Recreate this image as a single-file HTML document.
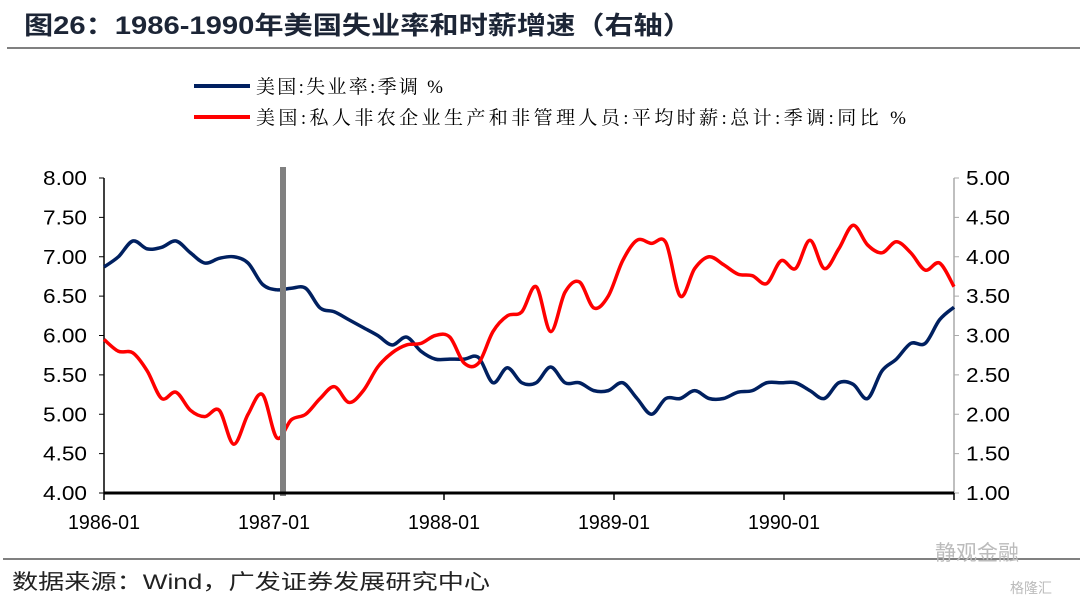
<!DOCTYPE html>
<html><head><meta charset="utf-8">
<style>
body{margin:0;background:#fff;width:1080px;height:603px;overflow:hidden;position:relative;font-family:"Liberation Sans","Noto Sans CJK SC",sans-serif}
</style></head><body>
<svg id="c" width="1080" height="603" style="position:absolute;left:0;top:0">
<text x="24" y="34" font-size="25" font-weight="bold" fill="#1c2536" font-family="Liberation Sans, Noto Sans CJK SC, sans-serif" textLength="668" lengthAdjust="spacingAndGlyphs">图26：1986-1990年美国失业率和时薪增速（右轴）</text>
<rect x="7" y="47" width="1073" height="2" fill="#808080"/>
<rect x="3" y="558" width="1077" height="2" fill="#808080"/>
<text x="12" y="589" font-size="21" fill="#222" font-family="Liberation Sans, Noto Sans CJK SC, sans-serif" textLength="478" lengthAdjust="spacingAndGlyphs">数据来源：Wind，广发证券发展研究中心</text>
<text x="935" y="560" font-size="21" fill="#bbb" font-family="Noto Sans CJK SC, sans-serif">静观金融</text>
<text x="1010" y="593" font-size="14" fill="#bbb" font-family="Noto Sans CJK SC, sans-serif">格隆汇</text>
</svg>
<script>
const unemp=[6.87,7.0,7.2,7.1,7.12,7.2,7.05,6.92,6.98,7.0,6.92,6.65,6.58,6.6,6.6,6.35,6.3,6.2,6.1,6.0,5.88,5.98,5.8,5.7,5.7,5.7,5.72,5.4,5.59,5.4,5.4,5.6,5.4,5.4,5.3,5.3,5.4,5.2,5.0,5.2,5.2,5.3,5.2,5.2,5.28,5.3,5.4,5.4,5.4,5.3,5.2,5.4,5.38,5.2,5.55,5.7,5.9,5.9,6.2,6.36];
const wage=[2.95,2.8,2.78,2.55,2.2,2.28,2.05,1.97,2.05,1.62,2.0,2.25,1.7,1.93,2.0,2.2,2.35,2.15,2.3,2.6,2.78,2.88,2.9,3.0,2.98,2.65,2.65,3.05,3.25,3.3,3.62,3.05,3.55,3.68,3.35,3.5,3.95,4.21,4.17,4.18,3.5,3.85,4.0,3.9,3.78,3.76,3.66,3.95,3.85,4.21,3.85,4.1,4.4,4.15,4.05,4.19,4.05,3.83,3.92,3.62];
const leftTicks=["4.00","4.50","5.00","5.50","6.00","6.50","7.00","7.50","8.00"];
const rightTicks=["1.00","1.50","2.00","2.50","3.00","3.50","4.00","4.50","5.00"];
const xLabels=["1986-01","1987-01","1988-01","1989-01","1990-01"];
const X0=104,X1=954,Y0=493,Y1=178;
const xs=i=>X0+i*(X1-X0)/(unemp.length-1);
const yL=v=>Y0-(v-4)/4*(Y0-Y1);
const yR=v=>Y0-(v-1)/4*(Y0-Y1);
const svg=document.getElementById('c');const NS='http://www.w3.org/2000/svg';
function mk(t,a){const e=document.createElementNS(NS,t);for(const k in a)e.setAttribute(k,a[k]);svg.appendChild(e);return e;}
function path(p){let d=`M${p[0][0]},${p[0][1]}`;for(let i=0;i<p.length-1;i++){const a=p[i-1]||p[i],b=p[i],c=p[i+1],e=p[i+2]||c;d+=` C${b[0]+(c[0]-a[0])/6},${b[1]+(c[1]-a[1])/6} ${c[0]-(e[0]-b[0])/6},${c[1]-(e[1]-b[1])/6} ${c[0]},${c[1]}`;}return d;}
let e;
e=mk('line',{x1:X0,y1:Y1,x2:X0,y2:Y0,stroke:'#000','stroke-width':1.5});

e=mk('line',{x1:X1,y1:Y1,x2:X1,y2:Y0,stroke:'#aaa','stroke-width':1.5});

leftTicks.forEach((t,i)=>{const y=Y0-i*(Y0-Y1)/8;mk('line',{x1:X0-5,y1:y,x2:X0,y2:y,stroke:'#000'});
e=mk('text',{x:87,y:y+7,'text-anchor':'end','font-size':20,fill:'#000','font-family':'Liberation Sans',textLength:44,lengthAdjust:'spacingAndGlyphs'});e.textContent=t;
});
rightTicks.forEach((t,i)=>{const y=Y0-i*(Y0-Y1)/8;mk('line',{x1:X1,y1:y,x2:X1+5,y2:y,stroke:'#aaa'});
e=mk('text',{x:966,y:y+7,'font-size':20,fill:'#000','font-family':'Liberation Sans',textLength:44,lengthAdjust:'spacingAndGlyphs'});e.textContent=t;
});
e=mk('path',{d:path(unemp.map((v,i)=>[xs(i),yL(v)])),fill:'none',stroke:'#002060','stroke-width':3.5,'stroke-linejoin':'round'});

e=mk('path',{d:path(wage.map((v,i)=>[xs(i),yR(v)])),fill:'none',stroke:'#ff0000','stroke-width':3.5,'stroke-linejoin':'round'});

e=mk('rect',{x:280,y:167,width:6,height:329,fill:'#808080'});

e=mk('line',{x1:X0,y1:Y0,x2:X1,y2:Y0,stroke:'#000','stroke-width':3});

for(let i=0;i<=5;i++){const x=X0+i*(X1-X0)/5;mk('line',{x1:x,y1:Y0,x2:x,y2:Y0+7,stroke:'#000','stroke-width':1.5});}
xLabels.forEach((t,i)=>{const x=X0+i*(X1-X0)/5;e=mk('text',{x:x,y:529,'text-anchor':'middle','font-size':20,fill:'#000','font-family':'Liberation Sans',textLength:72,lengthAdjust:'spacingAndGlyphs'});e.textContent=t;
});
const leg=[['#002060','美国:失业率:季调 %',86,187],['#ff0000','美国:私人非农企业生产和非管理人员:平均时薪:总计:季调:同比 %',117,650]];
leg.forEach(l=>{e=mk('line',{x1:194,y1:l[2],x2:250,y2:l[2],stroke:l[0],'stroke-width':4});

e=mk('text',{x:256,y:l[2]+7,'font-size':19,fill:'#000','font-family':'Liberation Serif, Noto Serif CJK SC, serif',textLength:l[3],lengthAdjust:'spacing'});e.textContent=l[1];
});
</script>
</body></html>
